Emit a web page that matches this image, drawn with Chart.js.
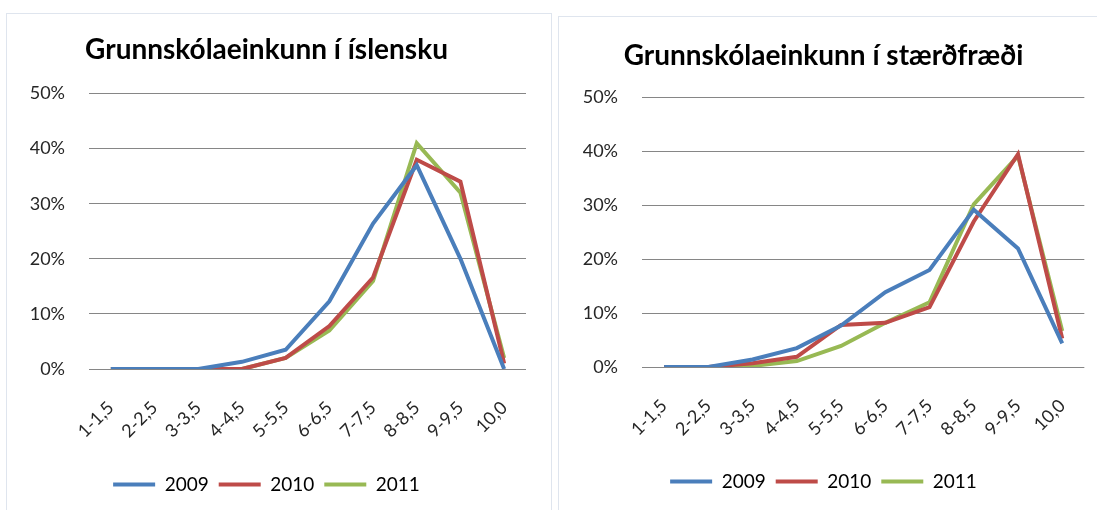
<!DOCTYPE html>
<html>
<head>
<meta charset="utf-8">
<script src="https://cdn.jsdelivr.net/npm/chart.js@4"></script>
<style>
  body { margin: 0; background: #fff; width: 1097px; height: 510px; overflow: hidden; position: relative; }
  .panel { position: absolute; border: 1px solid #dfe5ee; background: #fff; }
  #p1 { left: 6px; top: 13px; width: 544px; height: 510px; }
  #p2 { left: 558px; top: 16px; width: 560px; height: 510px; }
  canvas { position: absolute; left: 0; top: 0; }
</style>
</head>
<body>
<div class="panel" id="p1"><canvas id="islChart" width="544" height="497"></canvas></div>
<div class="panel" id="p2"><canvas id="staChart" width="539" height="494"></canvas></div>
<script>
const categories = ["1-1,5","2-2,5","3-3,5","4-4,5","5-5,5","6-6,5","7-7,5","8-8,5","9-9,5","10,0"];
const years = ["2009","2010","2011"];
const yTicks = [0, 0.1, 0.2, 0.3, 0.4, 0.5];

// íslenska
const isl2009 = [0, 0, 0, 0.013, 0.035, 0.123, 0.264, 0.37, 0.20, 0];
const isl2010 = [0, 0, 0, 0, 0.02, 0.078, 0.166, 0.38, 0.34, 0.01];
const isl2011 = [0, 0, 0, 0, 0.02, 0.07, 0.16, 0.41, 0.32, 0.02];

// stærðfræði
const sta2009 = [0, 0, 0.014, 0.035, 0.077, 0.139, 0.18, 0.292, 0.22, 0.044];
const sta2010 = [0, 0, 0.007, 0.019, 0.078, 0.082, 0.111, 0.27, 0.395, 0.053];
const sta2011 = [0, 0, 0.002, 0.011, 0.039, 0.082, 0.12, 0.302, 0.392, 0.067];

const colors = ['#4a7ebb', '#be4b48', '#98b954'];
const fontFamily = 'Lato, "Open Sans", sans-serif';

function makeChart(id, title, series, g) {
  new Chart(document.getElementById(id), {
    type: 'line',
    data: {
      labels: categories,
      datasets: series.map((s, i) => ({
        label: years[i],
        data: s,
        borderColor: colors[i],
        backgroundColor: colors[i],
        borderWidth: 4,
        pointRadius: 0,
        tension: 0,
        fill: false
      }))
    },
    options: {
      responsive: false,
      animation: false,
      layout: { padding: { left: 0, right: g.right, top: 0, bottom: g.bottom } },
      plugins: {
        title: {
          display: true,
          text: title,
          color: '#000',
          font: { family: fontFamily, size: 28, weight: 'bold' },
          padding: { top: g.titleTop, bottom: g.titleBottom }
        },
        legend: {
          position: 'bottom',
          labels: {
            usePointStyle: true,
            pointStyle: 'line',
            pointStyleWidth: 42,
            boxWidth: 42,
            boxHeight: 18,
            padding: 10,
            color: '#000',
            font: { family: fontFamily, size: 19 }
          }
        },
        tooltip: { enabled: false }
      },
      scales: {
        x: {
          offset: true,
          grid: { display: false },
          border: { display: false },
          ticks: {
            minRotation: 45,
            maxRotation: 45,
            padding: 20,
            color: '#262626',
            font: { family: fontFamily, size: 18 }
          },
          afterFit: s => { s.height = g.xHeight; }
        },
        y: {
          min: 0,
          max: 0.5,
          afterBuildTicks: s => { s.ticks = yTicks.map(v => ({ value: v })); },
          grid: { color: '#868686', lineWidth: 1, drawTicks: false },
          border: { display: false },
          ticks: {
            padding: 24,
            color: '#262626',
            font: { family: fontFamily, size: 18 },
            callback: v => Math.round(v * 100) + '%'
          },
          afterFit: s => { s.width = g.yWidth; }
        }
      }
    }
  });
}

makeChart('islChart', 'Grunnskólaeinkunn í íslensku', [isl2009, isl2010, isl2011],
  { right: 25, bottom: 7, titleTop: 19, titleBottom: 27, xHeight: 96, yWidth: 82 });
makeChart('staChart', 'Grunnskólaeinkunn í stærðfræði', [sta2009, sta2010, sta2011],
  { right: 10, bottom: 10, titleTop: 22, titleBottom: 25, xHeight: 95, yWidth: 83 });
</script>
</body>
</html>
